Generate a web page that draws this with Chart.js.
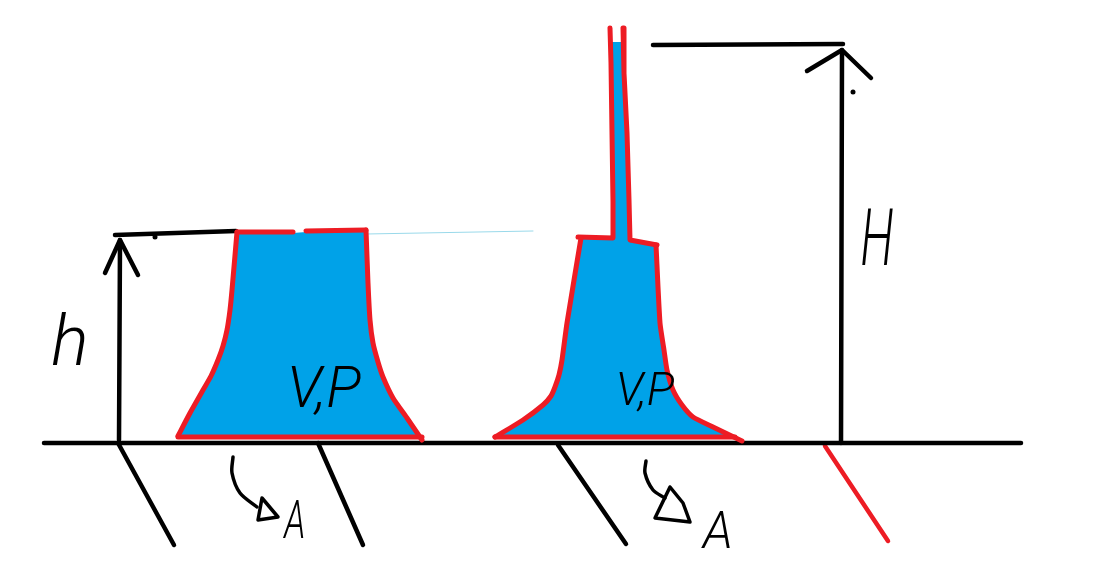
<!DOCTYPE html>
<html>
<head>
<meta charset="utf-8">
<script src="https://cdn.jsdelivr.net/npm/chart.js@4"></script>
<style>
  html, body { margin: 0; background: #fff; }
  canvas { display: block; }
</style>
</head>
<body>
<canvas id="sketch" width="1116" height="568"></canvas>
<script>
// shapes, [x, y] in picture pixels
const leftTankFill = [[178,437],[190,413],[203,390],[211,376],[218,360],[223,346],[227,330],[230,310],[232,290],[237,233],[293,233],[306,232],[366,231],[368,283],[370,320],[373,343],[378,362],[383,377],[393,398],[407,418],[422,437]];
const leftWallA = [[237,232],[232,290],[230,310],[227,330],[223,346],[218,360],[211,376],[203,390],[190,413],[178,436]];
const leftBase = [[178,437],[422,437]];
const leftWallB = [[366,230],[368,283],[370,320],[373,343],[378,362],[383,377],[393,398],[407,418],[422,440]];
const leftTopA = [[237,232],[293,232]];
const leftTopB = [[306,231],[366,230]];
const surfaceLine = [[366,234],[533,231]];

const rightTankFill = [[495,437],[523,420],[543,405],[551,396],[555,387],[559,375],[562,360],[567,323],[581,238],[613,238],[613,202],[612,133],[611,63],[612,42],[623,42],[624,73],[627,133],[629,200],[630,240],[657,245],[660,323],[664,350],[667,370],[673,390],[682,405],[693,417],[713,427],[737,437]];
const rightWallLeft = [[495,437],[523,420],[543,405],[551,396],[555,387],[559,375],[562,360],[567,323],[581,238]];
const rightShoulderLeft = [[578,237],[613,238],[613,202],[612,133],[611,63],[610,28]];
const rightTubeRight = [[623,28],[624,73],[627,133],[629,200],[630,240],[657,245]];
const rightWallRight = [[656,245],[660,323],[664,350],[667,370],[673,390],[682,405],[693,417],[713,427],[742,441]];
const rightBase = [[495,437],[735,437]];

const ground = [[44,443],[1021,443]];
const slantA = [[118,443],[174,545]];
const slantB = [[318,443],[363,545]];
const slantC = [[558,445],[626,544]];
const slantRed = [[825,446],[888,541]];

const arrowSmall = [[119,440],[120,240]];
const arrowSmallHead = [[105,273],[120,240],[138,275]];
const topSmall = [[115,235],[236,231]];
const arrowBig = [[841,443],[842,50]];
const arrowBigHead = [[807,71],[842,50],[871,78]];
const topBig = [[653,45],[843,44]];
const specks = [[155,237],[853,92]];

const curlLeft = [[233,457],[232,473],[240,493],[257,507]];
const curlLeftHead = [[262,498],[258,520],[278,517],[262,498]];
const curlRight = [[646,461],[645,473],[653,490],[665,498]];
const curlRightHead = [[670,487],[655,518],[690,522],[683,503],[670,487]];

const labelTexts = ['h', 'H', 'V,P', 'V,P', 'A', 'A'];
const labelX = [70, 877, 324, 645, 295, 718];
const labelY = [347, 245, 392, 393, 524, 535];
const labelSizes = [70, 80, 58, 46, 54, 52];
const labelNarrow = [1, 0.6, 1, 1, 0.65, 0.95];

const BLUE = '#00a2e8';
const RED = '#ed1c24';
const BLACK = '#000000';

const pts = (arr) => arr.map(([x, y]) => ({x, y}));
const stroke = (arr, color, width, tension = 0) => ({
    data: pts(arr),
    borderColor: color,
    borderWidth: width,
    fill: false,
    pointRadius: 0,
    tension,
    borderCapStyle: 'round',
    borderJoinStyle: 'round',
});
// higher order is drawn first, so the fill stays under the outlines
const area = (arr) => ({
    data: pts(arr),
    borderWidth: 0,
    backgroundColor: BLUE,
    fill: 'shape',
    pointRadius: 0,
    tension: 0,
    order: 1,
});

// handwritten letters, placed through the scales
const handLabels = {
    id: 'handLabels',
    afterDatasetsDraw(chart) {
        const {ctx, scales} = chart;
        labelTexts.forEach((t, i) => {
            ctx.save();
            ctx.fillStyle = BLACK;
            ctx.textAlign = 'center';
            ctx.textBaseline = 'middle';
            ctx.font = 'italic 300 ' + labelSizes[i] + 'px Roboto';
            ctx.translate(scales.x.getPixelForValue(labelX[i]), scales.y.getPixelForValue(labelY[i]));
            ctx.scale(labelNarrow[i], 1);
            ctx.fillText(t, 0, 0);
            ctx.restore();
        });
    },
};

new Chart(document.getElementById('sketch'), {
    type: 'line',
    plugins: [handLabels],
    data: {
        datasets: [
            area(leftTankFill),
            area(rightTankFill),
            stroke(leftWallA, RED, 5, 0.2),
            stroke(leftWallB, RED, 5, 0.2),
            stroke(leftBase, RED, 5),
            stroke(leftTopA, RED, 5),
            stroke(leftTopB, RED, 5),
            stroke(rightWallLeft, RED, 5, 0.2),
            stroke(rightShoulderLeft, RED, 5),
            stroke(rightTubeRight, RED, 5),
            stroke(rightWallRight, RED, 5, 0.2),
            stroke(rightBase, RED, 5),
            stroke(surfaceLine, '#99d9ea', 1),
            stroke(ground, BLACK, 4.5),
            stroke(slantA, BLACK, 4.5),
            stroke(slantB, BLACK, 4.5),
            stroke(slantC, BLACK, 4.5),
            stroke(slantRed, RED, 4.5),
            stroke(arrowSmall, BLACK, 4.5),
            stroke(arrowSmallHead, BLACK, 4.5),
            stroke(topSmall, BLACK, 4.5),
            stroke(arrowBig, BLACK, 4.5),
            stroke(arrowBigHead, BLACK, 4.5),
            stroke(topBig, BLACK, 4.5),
            stroke(curlLeft, BLACK, 3.5, 0.3),
            stroke(curlLeftHead, BLACK, 3.5),
            stroke(curlRight, BLACK, 3.5, 0.3),
            stroke(curlRightHead, BLACK, 3.5),
            {data: pts(specks), showLine: false, pointRadius: 2.5, pointBackgroundColor: BLACK, pointBorderWidth: 0},
        ],
    },
    options: {
        responsive: false,
        animation: false,
        devicePixelRatio: 1,
        layout: {padding: 0, autoPadding: false},
        plugins: {legend: {display: false}, tooltip: {enabled: false}},
        scales: {
            x: {type: 'linear', min: 0, max: 1116, display: false},
            y: {type: 'linear', min: 0, max: 568, reverse: true, display: false},
        },
    },
});
</script>
</body>
</html>
